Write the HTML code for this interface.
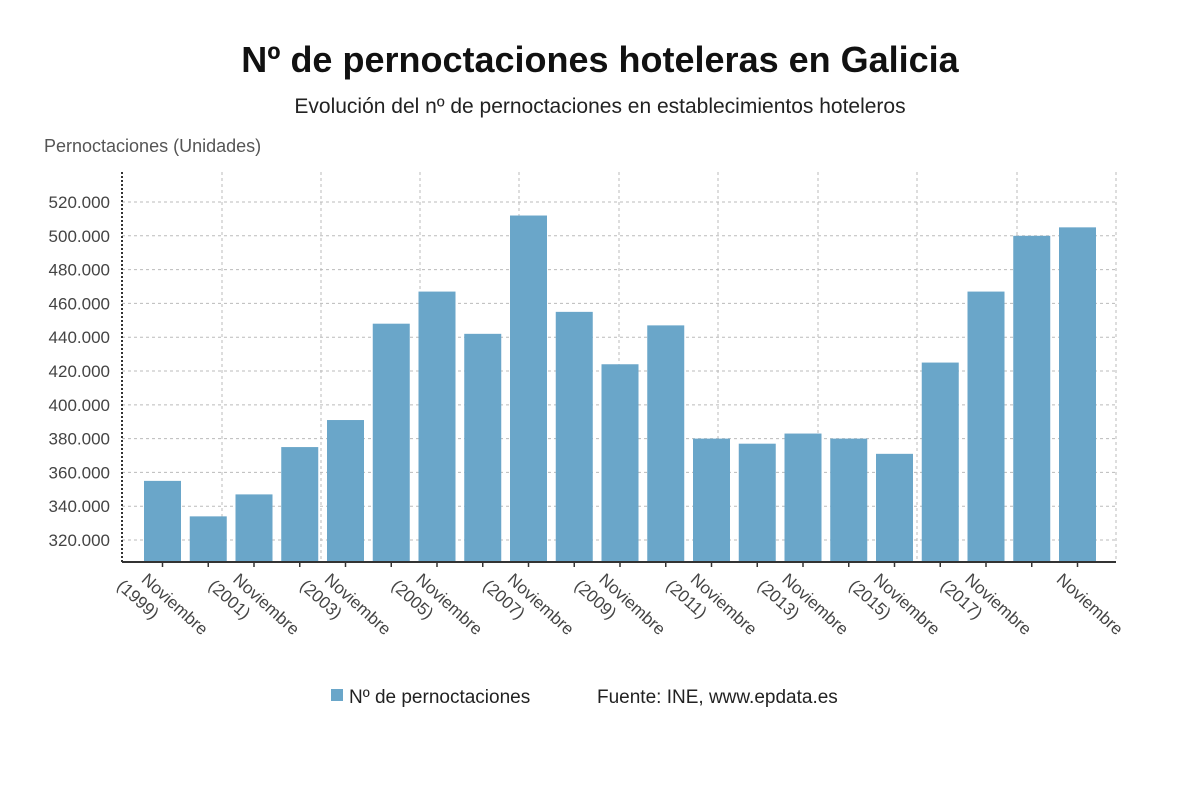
<!DOCTYPE html>
<html><head><meta charset="utf-8"><style>
body{margin:0;background:#fff;}
svg{display:block;font-family:"Liberation Sans",sans-serif;}
</style></head><body>
<svg id="c" width="1200" height="809">
<text x="600" y="72" text-anchor="middle" font-size="36" font-weight="bold" fill="#111">Nº de pernoctaciones hoteleras en Galicia</text>
<text x="600" y="113" text-anchor="middle" font-size="21" fill="#222">Evolución del nº de pernoctaciones en establecimientos hoteleros</text>
<text x="44" y="152" font-size="18" fill="#555">Pernoctaciones (Unidades)</text>
<g id="grid"></g><g id="bars"></g><g id="axes"></g>
<g>
<rect x="331" y="689" width="12" height="12" fill="#6aa6c9"/>
<text x="349" y="703" font-size="19" fill="#222">Nº de pernoctaciones</text>
<text x="597" y="703" font-size="19" fill="#222">Fuente: INE, www.epdata.es</text>
</g>
</svg>
<script>
const years=[1999,2000,2001,2002,2003,2004,2005,2006,2007,2008,2009,2010,2011,2012,2013,2014,2015,2016,2017,2018,2019];
const values=[355000,334000,347000,375000,391000,448000,467000,442000,512000,455000,424000,447000,380000,377000,383000,380000,371000,425000,467000,500000,505000];
const yTicks=[320000,340000,360000,380000,400000,420000,440000,460000,480000,500000,520000];
const NS='http://www.w3.org/2000/svg';
const L=122,R=1116,T=172,B=562,yMin=307000,yMax=537750;
const y=v=>B-(v-yMin)/(yMax-yMin)*(B-T);
const step=45.75,x0=162.5;
const x=i=>x0+i*step;
function mk(t,a,p){const e=document.createElementNS(NS,t);for(const k in a)e.setAttribute(k,a[k]);p.appendChild(e);return e;}
const grid=document.getElementById('grid'),bars=document.getElementById('bars'),axes=document.getElementById('axes');
yTicks.forEach(v=>{
 const l=mk('line',{x1:L,x2:R,y1:y(v),y2:y(v),stroke:'#bbb','stroke-dasharray':'3,3'},grid);
 
 
 const t=mk('text',{x:110,y:y(v)+6,'text-anchor':'end','font-size':17,fill:'#444'},axes);
 t.textContent=v.toLocaleString('de-DE');
 
 
});
[222,321,420,519,619,718,818,917,1017,1116].forEach(gx=>{
 const l=mk('line',{x1:gx,x2:gx,y1:T,y2:B,stroke:'#bbb','stroke-dasharray':'3,3'},grid);
 
 
});
values.forEach((v,i)=>{
 const r=mk('rect',{x:x(i)-18.5,y:y(v),width:37,height:B-y(v),fill:'#6aa6c9'},bars);
 
 
 const tk=mk('line',{x1:x(i),x2:x(i),y1:B,y2:B+5,stroke:'#333','stroke-width':1.5},axes);
 
 
 if(i%2===0){
  const t=mk('text',{transform:`translate(${x(i)-14},${B+10}) rotate(42)`,'font-size':17,fill:'#444'},axes);
  
  
  const a=mk('tspan',{x:0,dy:12},t);a.textContent='Noviembre';
  if(i<20){const b=mk('tspan',{x:-14,dy:21},t);b.textContent='('+years[i]+')';}
 }
});
const ya=mk('line',{x1:L,x2:L,y1:T,y2:B,stroke:'#333','stroke-width':2,'stroke-dasharray':'2,2'},axes);


const xa=mk('line',{x1:L,x2:R,y1:B,y2:B,stroke:'#333','stroke-width':2},axes);


const cl=mk('rect',{x:0,y:648,width:1200,height:30,fill:'#fff'},axes);


</script>
</body></html>
